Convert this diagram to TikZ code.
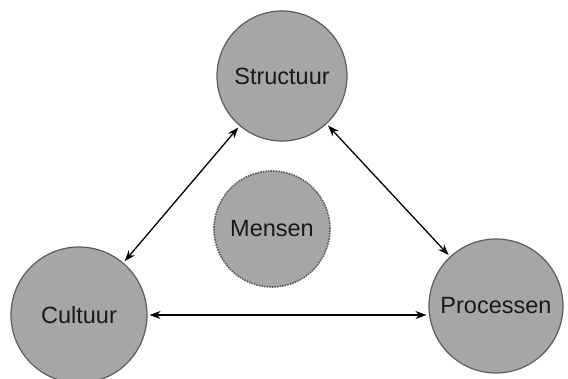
\documentclass[tikz,border=0pt]{standalone}
\usepackage{fontspec}
\setmainfont{Liberation Sans}
\usetikzlibrary{arrows.meta, positioning}
\definecolor{mygray}{rgb}{0.65, 0.65, 0.65}
\definecolor{myedge}{rgb}{0.36, 0.36, 0.36}
\tikzstyle{bol} = [circle, minimum size=130pt, inner sep=0pt, text centered, draw=myedge, line width=1.2pt, fill=mygray]
\tikzstyle{kern} = [circle, minimum size=116pt, inner sep=0pt, text centered, draw=myedge, line width=1.6pt, densely dotted, fill=mygray]
\tikzstyle{arrow} = [line width=1.3pt, {Stealth[length=11pt,width=8pt]}-{Stealth[length=11pt,width=8pt]}, shorten <=2pt, shorten >=2pt]

\begin{document}
\begin{tikzpicture}[x=1pt, y=-1pt, font=\fontsize{23.5}{28}\selectfont, text=black!90]
    \useasboundingbox (0,0) rectangle (568,379);
    \node (struc) [bol] at (282,76) {Structuur};
    \node (mens) [kern] at (272,229) {Mensen};
    \node (cult) [bol, minimum size=136pt] at (79,315) {Cultuur};
    \node (proc) [bol, minimum size=134pt] at (496,306) {Processen};

    \draw [arrow] (struc) -- (cult);
    \draw [arrow] (struc) -- (proc);
    \draw [arrow] (cult.east) -- (cult.east -| proc.west);
\end{tikzpicture}
\end{document}
